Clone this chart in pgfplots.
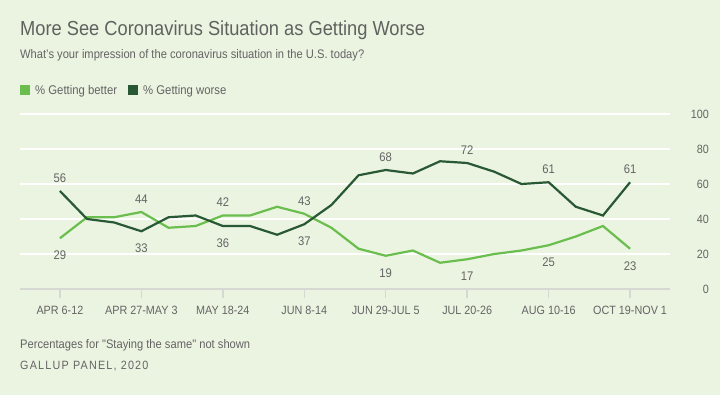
\documentclass[border=0pt]{standalone}
\usepackage{fontspec}
\setmainfont{Liberation Sans}[FakeStretch=0.9]
\newfontfamily\gallupfont{Liberation Sans}[FakeStretch=0.9,LetterSpace=10]
\newfontfamily\footfont{Liberation Sans}[FakeStretch=0.9,Ligatures=TeXOff]
\usepackage{pgfplots}
\pgfplotsset{compat=1.18}
\definecolor{bgc}{RGB}{235,244,225}
\definecolor{titlec}{RGB}{95,98,95}
\definecolor{textc}{RGB}{100,100,100}
\definecolor{lightg}{RGB}{106,190,78}
\definecolor{darkg}{RGB}{40,88,52}
\definecolor{zeroc}{RGB}{214,216,212}
\pgfplotstableread{
x better worse
0 29 56
1 41 40
2 41 38
3 44 33
4 35 41
5 36 42
6 42 36
7 42 36
8 47 31
9 43 37
10 35 48
11 23 65
12 19 68
13 22 66
14 15 73
15 17 72
16 20 67
17 22 60
18 25 61
19 30 47
20 36 42
21 23 61
}\datatable
\begin{document}
\begin{tikzpicture}[x=1bp,y=1bp]
\fill[bgc] (0,0) rectangle (720,395);
\node[anchor=base west,inner sep=0,text=titlec,font=\fontsize{20.3bp}{24bp}\selectfont] at (20,360) {More See Coronavirus Situation as Getting Worse};
\node[anchor=base west,inner sep=0,text=textc,font=\fontsize{12.4bp}{14bp}\selectfont] at (20,336.3) {What’s your impression of the coronavirus situation in the U.S. today?};
\fill[lightg] (20,300) rectangle (30,310);
\node[anchor=base west,inner sep=0,text=textc,font=\fontsize{12.6bp}{14bp}\selectfont] at (35,300.7) {\% Getting better};
\fill[darkg] (128,300) rectangle (138,310);
\node[anchor=base west,inner sep=0,text=textc,font=\fontsize{12.6bp}{14bp}\selectfont] at (143,300.7) {\% Getting worse};
\node[anchor=base west,inner sep=0,text=textc,font=\footfont\fontsize{12.4bp}{14bp}\selectfont] at (20,46.7) {Percentages for "Staying the same" not shown};
\node[anchor=base west,inner sep=0,text=textc,font=\gallupfont\fontsize{12bp}{14bp}\selectfont] at (20,25.7) {GALLUP PANEL, 2020};
\begin{axis}[
  at={(20bp,106bp)}, anchor=south west,
  scale only axis, width=650bp, height=175bp,
  xmin=-1.47, xmax=22.47, ymin=0, ymax=100,
  axis line style={draw=none},
  xtick={0,3,...,21},
  xticklabels={APR 6-12,APR 27-MAY 3,MAY 18-24,JUN 8-14,JUN 29-JUL 5,JUL 20-26,AUG 10-16,OCT 19-NOV 1},
  xtick pos=bottom,
  tick align=outside,
  major tick length=9bp,
  x tick style={draw=zeroc, line width=1.5bp},
  xticklabel style={anchor=north, inner sep=0pt, yshift=-7.7bp, text=textc, font=\fontsize{12bp}{14bp}\selectfont},
  ytick={20,40,...,100},
  extra y ticks={0},
  extra y tick style={grid style={draw=zeroc, line width=2bp}},
  ymajorgrids,
  grid style={draw=white, line width=2bp},
  y tick style={draw=none},
  yticklabel pos=right,
  yticklabel style={anchor=east, inner sep=0pt, xshift=30bp, text=textc, font=\fontsize{12bp}{14bp}\selectfont},
  /pgf/number format/assume math mode=true,
  clip=false,
]
\addplot[lightg, line width=2.2bp] table[x=x,y=better] {\datatable};
\addplot[darkg, line width=2.2bp] table[x=x,y=worse] {\datatable};
% labels
\addplot[draw=none, nodes near coords, every node near coord/.style={anchor=center, yshift=13bp, text=textc, font=\fontsize{12.5bp}{14bp}\selectfont}] coordinates {(3,44) (6,42) (9,43)};
\addplot[draw=none, nodes near coords, every node near coord/.style={anchor=center, yshift=-17bp, text=textc, font=\fontsize{12.5bp}{14bp}\selectfont}] coordinates {(0,29) (12,19) (15,17) (18,25) (21,23)};
\addplot[draw=none, nodes near coords, every node near coord/.style={anchor=center, yshift=13bp, text=textc, font=\fontsize{12.5bp}{14bp}\selectfont}] coordinates {(0,56) (12,68) (15,72) (18,61) (21,61)};
\addplot[draw=none, nodes near coords, every node near coord/.style={anchor=center, yshift=-17bp, text=textc, font=\fontsize{12.5bp}{14bp}\selectfont}] coordinates {(3,33) (6,36) (9,37)};
\end{axis}
\end{tikzpicture}
\end{document}
